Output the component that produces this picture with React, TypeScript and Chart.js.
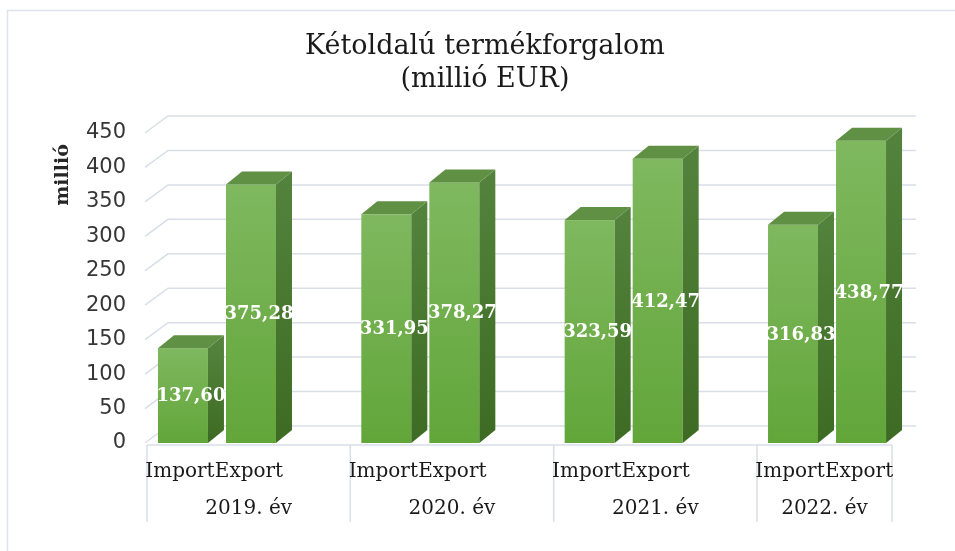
import React, { useEffect, useRef } from "react";
import { Chart, registerables } from "chart.js";

Chart.register(...registerables);

const categories = ["2019. év", "2020. év", "2021. év", "2022. év"];
const seriesNames = ["Import", "Export"];
const importValues = [137.6, 331.95, 323.59, 316.83];
const exportValues = [375.28, 378.27, 412.47, 438.77];
const yTicks = [0, 50, 100, 150, 200, 250, 300, 350, 400, 450];
const titleLines = ["Kétoldalú termékforgalom", "(millió EUR)"];
const yAxisTitle = "millió";

const BAR_DX = 16;
const BAR_DY = -13;
const WALL_DX = 21;
const WALL_DY = -17;
const GRID = "#d9dee7";
const SERIF = "'DejaVu Serif', serif";
const SANS = "'DejaVu Sans', sans-serif";

const fmt = (v: number) => v.toFixed(2).replace(".", ",");

const threeD = {
  id: "threeD",
  beforeDatasetsDraw(chart: any) {
    const { ctx, scales } = chart;
    const y = scales.y;
    const m0 = chart.getDatasetMeta(0).data;
    const m1 = chart.getDatasetMeta(1).data;
    const w = m0[0].width;
    const floorL = m0[0].x - w / 2 - 11;
    const floorR = m1[m1.length - 1].x + w / 2 + 6;
    const y0 = y.getPixelForValue(0);
    ctx.save();
    // frame
    ctx.strokeStyle = "#dde3ec";
    ctx.lineWidth = 1.5;
    ctx.beginPath();
    ctx.moveTo(7.5, chart.height);
    ctx.lineTo(7.5, 10.5);
    ctx.lineTo(chart.width, 10.5);
    ctx.stroke();

    // title
    ctx.fillStyle = "#1a1a1a";
    ctx.font = `27px ${SERIF}`;
    ctx.textAlign = "center";
    ctx.textBaseline = "middle";
    ctx.fillText(titleLines[0], 485, 47);
    ctx.fillText(titleLines[1], 485, 80);

    // y axis title
    ctx.save();
    ctx.translate(63, 175);
    ctx.rotate(-Math.PI / 2);
    ctx.font = `bold 19px ${SERIF}`;
    ctx.fillStyle = "#262626";
    ctx.fillText(yAxisTitle, 0, 0);
    ctx.restore();

    // gridlines on wall
    ctx.strokeStyle = GRID;
    ctx.lineWidth = 1.5;
    for (const t of yTicks) {
      const py = y.getPixelForValue(t);
      ctx.beginPath();
      ctx.moveTo(floorL - 2, py);
      ctx.lineTo(floorL + WALL_DX, py + WALL_DY);
      ctx.lineTo(floorR + 24, py + WALL_DY);
      ctx.stroke();
    }
    // y tick labels
    ctx.fillStyle = "#363636";
    ctx.font = `21px ${SANS}`;
    ctx.textAlign = "right";
    for (const t of yTicks) {
      ctx.fillText(String(t), 126, y.getPixelForValue(t));
    }

    // floor front line and category cells
    const fy = y0 + 2;
    ctx.strokeStyle = GRID;
    ctx.beginPath();
    ctx.moveTo(floorL, fy);
    ctx.lineTo(floorR, fy);
    const bounds: number[] = m0.map((e: any) => e.x - w / 2 - 11);
    bounds.push(floorR);
    for (const bx of bounds) {
      ctx.moveTo(bx, fy);
      ctx.lineTo(bx, fy + 77);
    }
    ctx.stroke();

    ctx.fillStyle = "#1a1a1a";
    ctx.font = `20px ${SERIF}`;
    ctx.textAlign = "center";
    for (let i = 0; i < categories.length; i++) {
      ctx.fillText(seriesNames[0], m0[i].x - 3, fy + 27);
      ctx.fillText(seriesNames[1], m1[i].x - 2, fy + 27);
      ctx.fillText(categories[i], (bounds[i] + bounds[i + 1]) / 2, fy + 64);
    }
    ctx.restore();
  },
  afterDatasetsDraw(chart: any) {
    const { ctx } = chart;
    ctx.save();
    for (let d = 0; d < 2; d++) {
      const meta = chart.getDatasetMeta(d);
      const vals = d === 0 ? importValues : exportValues;
      meta.data.forEach((el: any, i: number) => {
        const l = el.x - el.width / 2;
        const r = el.x + el.width / 2;
        const top = el.y;
        const base = el.base;
        // front
        const gf = ctx.createLinearGradient(0, top, 0, base);
        gf.addColorStop(0, "#7fb85f");
        gf.addColorStop(1, "#62a63a");
        ctx.fillStyle = gf;
        ctx.fillRect(l, top, r - l, base - top);
        // side
        const gs = ctx.createLinearGradient(0, top, 0, base);
        gs.addColorStop(0, "#52823b");
        gs.addColorStop(1, "#3d6b24");
        ctx.fillStyle = gs;
        ctx.beginPath();
        ctx.moveTo(r, top);
        ctx.lineTo(r + BAR_DX, top + BAR_DY);
        ctx.lineTo(r + BAR_DX, base + BAR_DY);
        ctx.lineTo(r, base);
        ctx.closePath();
        ctx.fill();
        // top
        ctx.fillStyle = "#5f9044";
        ctx.beginPath();
        ctx.moveTo(l, top);
        ctx.lineTo(l + BAR_DX, top + BAR_DY);
        ctx.lineTo(r + BAR_DX, top + BAR_DY);
        ctx.lineTo(r, top);
        ctx.closePath();
        ctx.fill();
        // label
        ctx.fillStyle = "#ffffff";
        ctx.font = `bold 18px ${SERIF}`;
        ctx.textAlign = "center";
        ctx.textBaseline = "middle";
        ctx.fillText(fmt(vals[i]), el.x + BAR_DX / 2, (top + base) / 2 + 1);
      });
    }
    ctx.restore();
  },
};

export default function App() {
  const ref = useRef<HTMLCanvasElement | null>(null);
  useEffect(() => {
    document.body.style.margin = "0";
    const canvas = ref.current!;
    const chart = new Chart(canvas, {
      type: "bar",
      data: {
        labels: categories,
        datasets: [
          { label: seriesNames[0], data: importValues, backgroundColor: "transparent", borderWidth: 0 },
          { label: seriesNames[1], data: exportValues, backgroundColor: "transparent", borderWidth: 0 },
        ],
      },
      options: {
        responsive: false,
        animation: false,
        devicePixelRatio: 1,
        categoryPercentage: 0.669,
        barPercentage: 0.735,
        layout: { padding: { left: 115.3, right: 26.3, top: 133, bottom: 108 } },
        scales: {
          x: { display: false },
          y: { display: false, min: 0, max: 450 },
        },
        plugins: { legend: { display: false }, tooltip: { enabled: false }, title: { display: false } },
      },
      plugins: [threeD],
    } as any);
    return () => chart.destroy();
  }, []);
  return (
    <div style={{ width: 955, height: 551, background: "#fff" }}>
      <canvas ref={ref} width={955} height={551} />
    </div>
  );
}
